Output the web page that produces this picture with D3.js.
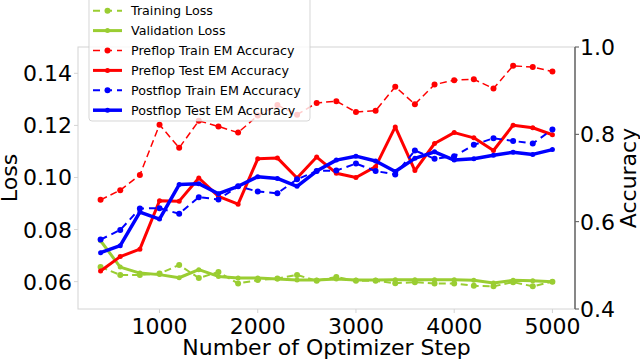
<!DOCTYPE html>
<html><head><meta charset="utf-8">
<script src="https://cdn.jsdelivr.net/npm/d3@7"></script>
<style>body{margin:0;background:#fff}svg{display:block}text{font-family:"DejaVu Sans",sans-serif;fill:#000}</style>
</head><body>
<svg id="c" width="640" height="362"></svg>
<script>
const steps = [400,600,800,1000,1200,1400,1600,1800,2000,2200,2400,2600,2800,3000,3200,3400,3600,3800,4000,4200,4400,4600,4800,5000];
const trainingLoss = [0.0656,0.0626,0.0626,0.0631,0.0664,0.0614,0.0637,0.0593,0.0606,0.0612,0.0626,0.0603,0.0618,0.0603,0.0603,0.0594,0.0598,0.0593,0.0593,0.0584,0.0582,0.0598,0.0582,0.0600];
const validationLoss = [0.0757,0.0656,0.0633,0.0627,0.0615,0.0646,0.0620,0.0614,0.0614,0.0610,0.0606,0.0606,0.0610,0.0606,0.0606,0.0607,0.0607,0.0607,0.0607,0.0605,0.0595,0.0605,0.0603,0.0600];
const preflopTrain = [0.650,0.672,0.707,0.822,0.769,0.831,0.818,0.804,0.843,0.867,0.845,0.872,0.876,0.851,0.854,0.909,0.869,0.914,0.924,0.926,0.905,0.957,0.954,0.944];
const preflopTest = [0.487,0.520,0.537,0.648,0.647,0.700,0.658,0.640,0.744,0.746,0.700,0.748,0.711,0.701,0.726,0.817,0.717,0.779,0.804,0.792,0.763,0.821,0.815,0.799];
const postflopTrain = [0.559,0.581,0.630,0.631,0.618,0.656,0.651,0.681,0.669,0.665,0.697,0.716,0.717,0.733,0.716,0.708,0.763,0.744,0.750,0.776,0.791,0.785,0.779,0.811];
const postflopTest = [0.529,0.545,0.622,0.606,0.685,0.687,0.664,0.681,0.703,0.699,0.681,0.716,0.741,0.750,0.739,0.715,0.745,0.760,0.741,0.744,0.752,0.759,0.754,0.765];
const xTicks = [1000,2000,3000,4000,5000];
const lossTicks = [0.06,0.08,0.10,0.12,0.14];
const accTicks = [0.4,0.6,0.8,1.0];
const xLabel = "Number of Optimizer Step", lossLabel = "Loss", accLabel = "Accuracy";

const L=78,R=575,T=47,B=309;
const x = d3.scaleLinear().domain([170,5230]).range([L,R]);
const yL = d3.scaleLinear().domain([0.0495,0.1501]).range([B,T]);
const yR = d3.scaleLinear().domain([0.4,1.0]).range([B,T]);
const svg = d3.select("#c");

const green="#9acd32", red="#ff0000", blue="#0000ff";
const series = [
 {name:"Training Loss", data:trainingLoss, y:yL, color:green, w:2, dash:"7,4", r:3},
 {name:"Validation Loss", data:validationLoss, y:yL, color:green, w:3, dash:null, r:2.5},
 {name:"Preflop Train EM Accuracy", data:preflopTrain, y:yR, color:red, w:1.5, dash:"7,4", r:3},
 {name:"Preflop Test EM Accuracy", data:preflopTest, y:yR, color:red, w:3, dash:null, r:2.5},
 {name:"Postflop Train EM Accuracy", data:postflopTrain, y:yR, color:blue, w:2, dash:"7,5", r:3},
 {name:"Postflop Test EM Accuracy", data:postflopTest, y:yR, color:blue, w:3.5, dash:null, r:2.5}
];

// frame
const grey="#d4d4d4";
svg.append("rect").attr("x",L).attr("y",T).attr("width",R-L).attr("height",B-T).attr("fill","none").attr("stroke",grey).attr("stroke-width",1);

// axes
const fs = 22;
const gx = svg.append("g");
xTicks.forEach(t=>{
  gx.append("line").attr("x1",x(t)).attr("x2",x(t)).attr("y1",B).attr("y2",B+4).attr("stroke",grey);
  gx.append("text").attr("x",x(t)).attr("y",B+25).attr("text-anchor","middle").attr("font-size",fs).text(t);
});
lossTicks.forEach(t=>{
  gx.append("line").attr("x1",L-4).attr("x2",L).attr("y1",yL(t)).attr("y2",yL(t)).attr("stroke",grey);
  gx.append("text").attr("x",L-6).attr("y",yL(t)+8).attr("text-anchor","end").attr("font-size",fs).text(t.toFixed(2));
});
accTicks.forEach(t=>{
  gx.append("line").attr("x1",R).attr("x2",R+4).attr("y1",yR(t)).attr("y2",yR(t)).attr("stroke","#555");
  gx.append("text").attr("x",R+5).attr("y",yR(t)+8).attr("text-anchor","start").attr("font-size",fs).text(t.toFixed(1));
});
svg.append("line").attr("x1",R).attr("x2",R).attr("y1",T).attr("y2",B).attr("stroke","#666").attr("stroke-width",1.5);
svg.append("text").attr("x",(L+R)/2).attr("y",355).attr("text-anchor","middle").attr("font-size",fs).text(xLabel);
svg.append("text").attr("transform",`translate(17,${(T+B)/2}) rotate(-90)`).attr("text-anchor","middle").attr("font-size",fs).text(lossLabel);
svg.append("text").attr("transform",`translate(636,${(T+B)/2}) rotate(-90)`).attr("text-anchor","middle").attr("font-size",fs).text(accLabel);

// lines
series.forEach(s=>{
  const line = d3.line().x((d,i)=>x(steps[i])).y(d=>s.y(d));
  svg.append("path").datum(s.data).attr("d",line).attr("fill","none").attr("stroke",s.color)
    .attr("stroke-width",s.w).attr("stroke-dasharray",s.dash).attr("stroke-linejoin","round");
  svg.append("g").selectAll("circle").data(s.data).join("circle")
    .attr("cx",(d,i)=>x(steps[i])).attr("cy",d=>s.y(d)).attr("r",s.r).attr("fill",s.color);
});

// legend
const lg = svg.append("g");
lg.append("rect").attr("x",89).attr("y",-3).attr("width",221).attr("height",124).attr("rx",3)
  .attr("fill","#fff").attr("fill-opacity",0.8).attr("stroke","#cccccc").attr("stroke-opacity",0.8);
series.forEach((s,i)=>{
  const cy = 10.7 + i*19.9;
  lg.append("line").attr("x1",93).attr("x2",122).attr("y1",cy).attr("y2",cy).attr("stroke",s.color)
    .attr("stroke-width",s.w).attr("stroke-dasharray",s.dash ? "7,5" : null);
  lg.append("circle").attr("cx",107.5).attr("cy",cy).attr("r",s.r).attr("fill",s.color);
  lg.append("text").attr("x",131).attr("y",cy+4.6).attr("font-size",12.7).text(s.name);
});
</script>
</body></html>
